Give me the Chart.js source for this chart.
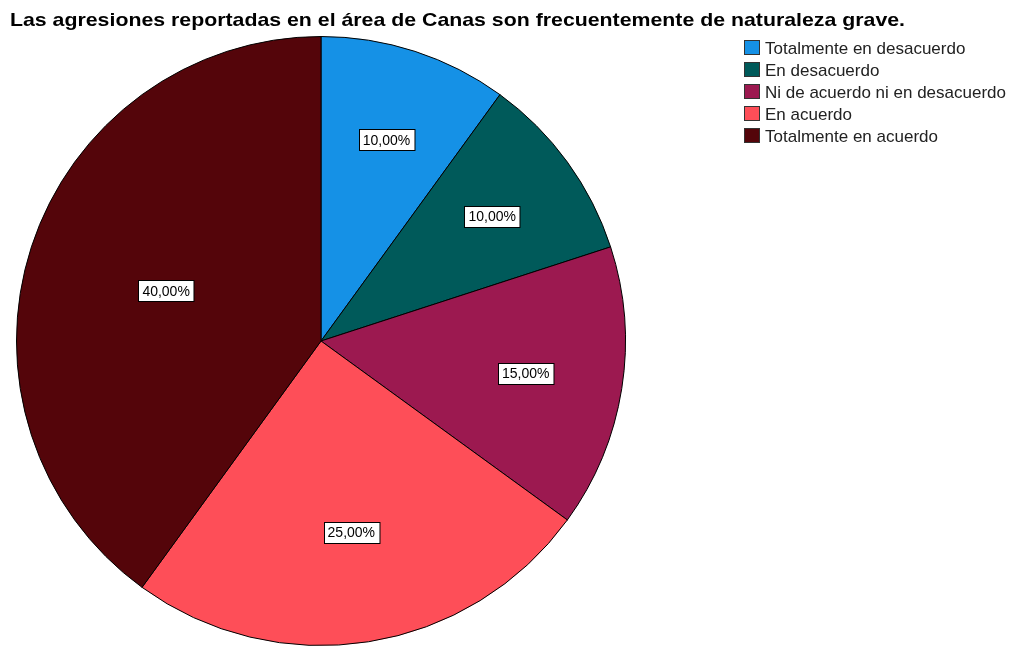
<!DOCTYPE html>
<html>
<head>
<meta charset="utf-8">
<script src="https://cdn.jsdelivr.net/npm/chart.js@4/dist/chart.umd.min.js"></script>
<style>
html,body{margin:0;padding:0;background:#fff;}
canvas{display:block;}
</style>
</head>
<body>
<canvas id="c" width="1012" height="646"></canvas>
<script>
const titleText = "Las agresiones reportadas en el área de Canas son frecuentemente de naturaleza grave.";
const categories = ["Totalmente en desacuerdo", "En desacuerdo", "Ni de acuerdo ni en desacuerdo", "En acuerdo", "Totalmente en acuerdo"];
const values = [10, 10, 15, 25, 40];
const colors = ["#1591E6", "#005A5A", "#9C1950", "#FE4E58", "#54050A"];

const FONT = '"Liberation Sans", Arial, sans-serif';

const customDraw = {
  id: 'customDraw',
  afterDraw(chart) {
    const ctx = chart.ctx;
    ctx.save();
    // title
    ctx.fillStyle = '#000';
    ctx.font = 'bold 19px ' + FONT;
    ctx.textAlign = 'left';
    ctx.textBaseline = 'alphabetic';
    const tw = ctx.measureText(titleText).width;
    ctx.save();
    ctx.translate(10, 26);
    ctx.scale(895 / tw, 1);
    ctx.fillText(titleText, 0, 0);
    ctx.restore();

    // legend
    ctx.font = '17px ' + FONT;
    chart.data.labels.forEach((lab, i) => {
      const y = 40 + i * 22;
      ctx.fillStyle = chart.data.datasets[0].backgroundColor[i];
      ctx.fillRect(744, y, 16, 15);
      ctx.strokeStyle = '#333';
      ctx.lineWidth = 1;
      ctx.strokeRect(744.5, y + 0.5, 15, 14);
      ctx.fillStyle = '#222';
      ctx.fillText(lab, 765, y + 14);
    });

    // value labels
    const meta = chart.getDatasetMeta(0);
    const total = chart.data.datasets[0].data.reduce((a, b) => a + b, 0);
    ctx.font = '14px ' + FONT;
    ctx.textAlign = 'center';
    ctx.textBaseline = 'middle';
    meta.data.forEach((arc, i) => {
      const p = arc.getProps(['x', 'y', 'startAngle', 'endAngle', 'outerRadius'], true);
      const mid = (p.startAngle + p.endAngle) / 2;
      const half = (p.endAngle - p.startAngle) / 2;
      const d = 1.06 * (2 * p.outerRadius * Math.sin(half)) / (3 * half);
      const cx = p.x + Math.cos(mid) * d;
      const cy = p.y + Math.sin(mid) * d;
      const pct = (chart.data.datasets[0].data[i] / total * 100).toFixed(2).replace('.', ',') + '%';
      const w = ctx.measureText(pct).width + 8;
      const h = 21;
      const bx = Math.round(cx - w / 2) + 0.5, by = Math.round(cy - h / 2) + 0.5;
      ctx.fillStyle = '#fff';
      ctx.fillRect(bx, by, w, h);
      ctx.strokeStyle = '#000';
      ctx.lineWidth = 1;
      ctx.strokeRect(bx, by, w, h);
      ctx.fillStyle = '#000';
      ctx.fillText(pct, cx, cy + 1);
    });
    ctx.restore();
  }
};

new Chart(document.getElementById('c'), {
  type: 'pie',
  data: {
    labels: categories,
    datasets: [{
      data: values,
      backgroundColor: colors,
      borderColor: '#000',
      borderWidth: 1
    }]
  },
  options: {
    responsive: false,
    animation: false,
    devicePixelRatio: 1,
    layout: { padding: { left: 16, top: 36, right: 386, bottom: 0 } },
    plugins: {
      legend: { display: false },
      title: { display: false },
      tooltip: { enabled: false }
    }
  },
  plugins: [customDraw]
});
</script>
</body>
</html>
